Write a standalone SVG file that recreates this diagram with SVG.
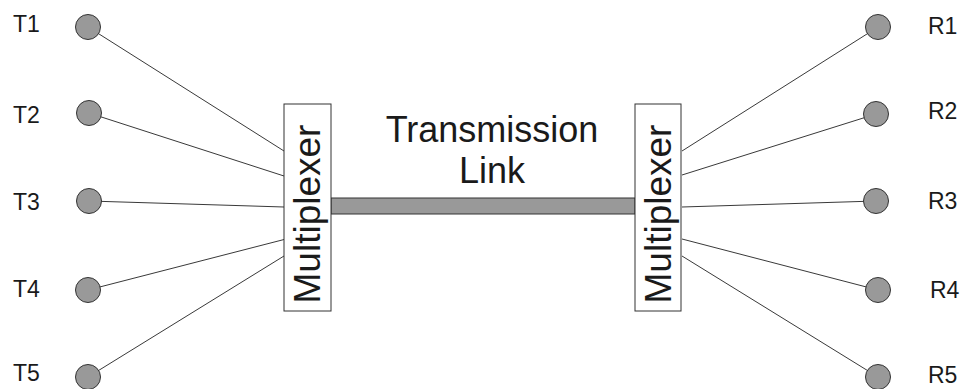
<svg xmlns="http://www.w3.org/2000/svg" width="963" height="389" viewBox="0 0 963 389">
<style>
  .lbl { font-family: "Liberation Sans", Arial, sans-serif; font-size: 23px; fill: #1a1a1a; }
  .big { font-family: "Liberation Sans", Arial, sans-serif; font-size: 36px; fill: #1a1a1a; text-anchor: middle; }
  .term { fill: #999999; stroke: #333333; stroke-width: 1; }
  .mux { fill: #ffffff; stroke: #333333; stroke-width: 1; }
  .wire { stroke: #222222; stroke-width: 0.9; fill: none; }
</style>
<rect width="963" height="389" fill="#ffffff"/>
<g id="connectors">
  <line class="wire" x1="88" y1="27" x2="284" y2="151"/>
  <line class="wire" x1="89" y1="113" x2="284" y2="176"/>
  <line class="wire" x1="89" y1="201" x2="284" y2="207"/>
  <line class="wire" x1="88" y1="290" x2="286" y2="239"/>
  <line class="wire" x1="88" y1="377" x2="284" y2="256"/>
  <line class="wire" x1="682" y1="151" x2="878" y2="27"/>
  <line class="wire" x1="682" y1="175" x2="876" y2="114"/>
  <line class="wire" x1="682" y1="207" x2="876" y2="201"/>
  <line class="wire" x1="682" y1="239" x2="878" y2="290"/>
  <line class="wire" x1="682" y1="256" x2="878" y2="377"/>
</g>
<g id="link">
  <rect x="331" y="198" width="304" height="16" fill="#999999" stroke="#333333" stroke-width="1"/>
  <text class="big" x="492" y="142">Transmission</text>
  <text class="big" x="492" y="183">Link</text>
</g>
<g id="mux-left">
  <rect class="mux" x="284" y="104" width="47" height="207"/>
  <text class="big" style="font-size:37px" transform="translate(320,214) rotate(-90)">Multiplexer</text>
</g>
<g id="mux-right">
  <rect class="mux" x="635" y="104" width="46" height="207"/>
  <text class="big" style="font-size:37px" transform="translate(671,214) rotate(-90)">Multiplexer</text>
</g>
<g id="T1"><circle class="term" cx="88" cy="27" r="12.5"/><text class="lbl" x="13" y="32">T1</text></g>
<g id="T2"><circle class="term" cx="89" cy="113" r="12.5"/><text class="lbl" x="13" y="123">T2</text></g>
<g id="T3"><circle class="term" cx="89" cy="201" r="12.5"/><text class="lbl" x="13" y="210">T3</text></g>
<g id="T4"><circle class="term" cx="88" cy="290" r="12.5"/><text class="lbl" x="13" y="297">T4</text></g>
<g id="T5"><circle class="term" cx="88" cy="377" r="12.5"/><text class="lbl" x="13" y="381">T5</text></g>
<g id="R1"><circle class="term" cx="878" cy="27" r="12.5"/><text class="lbl" x="928" y="34">R1</text></g>
<g id="R2"><circle class="term" cx="876" cy="114" r="12.5"/><text class="lbl" x="928" y="119">R2</text></g>
<g id="R3"><circle class="term" cx="876" cy="201" r="12.5"/><text class="lbl" x="928" y="209">R3</text></g>
<g id="R4"><circle class="term" cx="878" cy="290" r="12.5"/><text class="lbl" x="930" y="298">R4</text></g>
<g id="R5"><circle class="term" cx="878" cy="377" r="12.5"/><text class="lbl" x="928" y="383">R5</text></g>
</svg>
